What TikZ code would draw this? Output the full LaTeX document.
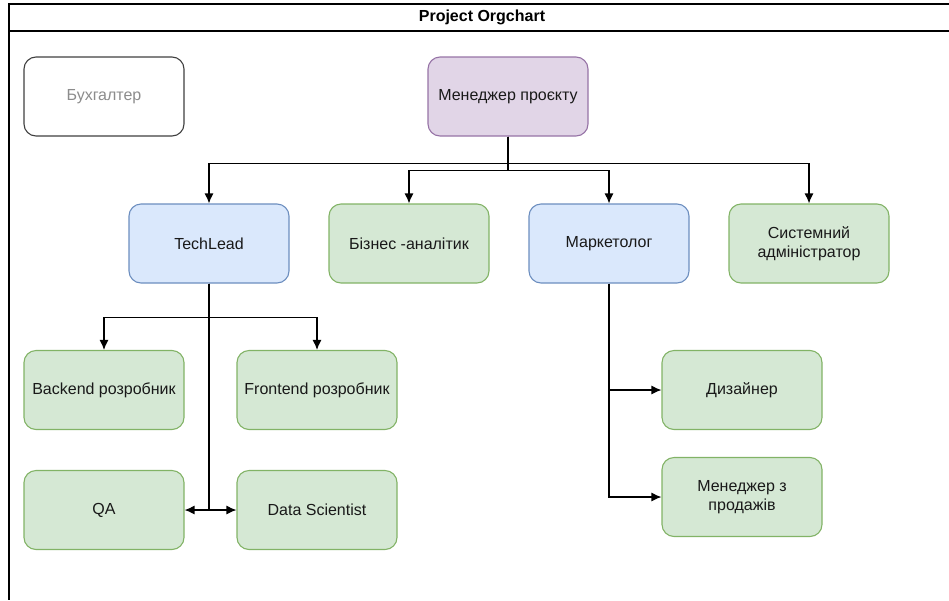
\documentclass[tikz,border=0pt]{standalone}
\usepackage{fontspec}
\setmainfont{Liberation Sans}
\usepackage{tikz}
\usetikzlibrary{arrows.meta}

\definecolor{lilafill}{HTML}{E1D5E7}
\definecolor{liladraw}{HTML}{9673A6}
\definecolor{bluefill}{HTML}{DAE8FC}
\definecolor{bluedraw}{HTML}{6C8EBF}
\definecolor{greenfill}{HTML}{D5E8D4}
\definecolor{greendraw}{HTML}{82B366}

\begin{document}
\begin{tikzpicture}[x=1pt,y=-1pt,font=\fontsize{16}{19}\selectfont,
  box/.style n args={2}{draw=#1,fill=#2,line width=1.1pt,rounded corners=12pt,
    minimum width=160pt,minimum height=79pt,align=center,text=black!90,inner sep=2pt},
  link/.style={line width=1.2pt,-{Latex[length=10pt,width=9pt]}}]
\useasboundingbox (0,0) rectangle (949,600);
% frame with title band
\draw[line width=1.4pt] (949,4) -- (9,4) -- (9,600);
\draw[line width=1.4pt] (9,31) -- (949,31);
\node[font=\bfseries\fontsize{16}{19}\selectfont] (title) at (482,17) {Project Orgchart};

\node[box={black!75}{white},text=black!45] (acc) at (104,96.5) {Бухгалтер};
\node[box={liladraw}{lilafill}] (pm) at (508,96.5) {Менеджер проєкту};

\node[box={bluedraw}{bluefill}] (tl) at (209,243.5) {TechLead};
\node[box={greendraw}{greenfill}] (ba) at (409,243.5) {Бізнес -аналітик};
\node[box={bluedraw}{bluefill}] (mk) at (609,243.5) {Маркетолог};
\node[box={greendraw}{greenfill}] (sa) at (809,243.5) {Системний\\адміністратор};

\node[box={greendraw}{greenfill}] (be) at (104,390) {Backend розробник};
\node[box={greendraw}{greenfill}] (fe) at (317,390) {Frontend розробник};
\node[box={greendraw}{greenfill}] (qa) at (104,510) {QA};
\node[box={greendraw}{greenfill}] (ds) at (317,510) {Data Scientist};

\node[box={greendraw}{greenfill}] (dz) at (742,390) {Дизайнер};
\node[box={greendraw}{greenfill}] (sm) at (742,497) {Менеджер з\\продажів};

% project manager
\draw[link] (pm.south) -- ++(0,27) -| (tl.north);
\draw[link] (pm.south) -- ++(0,27) -| (sa.north);
\draw[link] (pm.south) -- ++(0,34) -| (ba.north);
\draw[link] (pm.south) -- ++(0,34) -| (mk.north);
% techlead
\draw[link] (tl.south) -- ++(0,34) -| (be.north);
\draw[link] (tl.south) -- ++(0,34) -| (fe.north);
\draw[link] (tl.south) |- (qa.east);
\draw[link] (tl.south) |- (ds.west);
% marketing
\draw[link] (mk.south) |- (dz.west);
\draw[link] (mk.south) |- (sm.west);
\end{tikzpicture}
\end{document}
